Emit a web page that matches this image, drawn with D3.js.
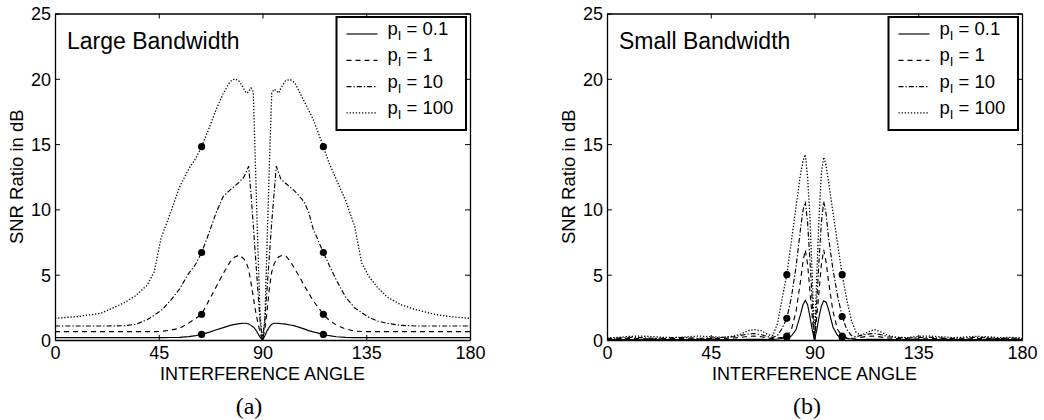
<!DOCTYPE html>
<html>
<head>
<meta charset="utf-8">
<script src="https://cdn.jsdelivr.net/npm/d3@7"></script>
<style>
  html, body { margin: 0; padding: 0; background: #fff; }
  svg { display: block; }
</style>
</head>
<body>
<svg id="chart" width="1044" height="420"></svg>
<script>
// ---------------- DATA ----------------
const xTicks = [0, 45, 90, 135, 180];
const yTicks = [0, 5, 10, 15, 20, 25];
const seriesLabels = ["0.1", "1", "10", "100"];
const xAxisTitle = "INTERFERENCE ANGLE";
const yAxisTitle = "SNR Ratio in dB";
const panelTitles = ["Large Bandwidth", "Small Bandwidth"];
const panelCaptions = ["(a)", "(b)"];

// Large bandwidth panel
const largeAngles = [0, 10, 20, 30, 35, 40, 43, 46, 50, 54, 58, 61, 63.6, 67, 70, 73, 76, 78, 80, 82,
  83, 84, 85, 86, 87, 88, 89, 90, 91, 92, 93, 94, 95, 96, 97, 98, 100, 102, 104, 106,
  108, 110, 112, 116.4, 119, 122, 126, 130, 133, 136, 140, 144, 150, 157, 165, 172, 180];
const largeP01 = [0.18, 0.18, 0.18, 0.18, 0.18, 0.18, 0.18, 0.18, 0.19, 0.2, 0.26, 0.34, 0.43, 0.6, 0.78, 0.95, 1.12, 1.2, 1.25, 1.28,
  1.28, 1.22, 1.12, 1.0, 0.8, 0.5, 0.2, 0, 0.3, 0.7, 1.0, 1.2, 1.28, 1.28, 1.27, 1.25, 1.22, 1.15, 1.08, 0.97,
  0.85, 0.72, 0.62, 0.43, 0.33, 0.25, 0.2, 0.18, 0.18, 0.18, 0.18, 0.18, 0.18, 0.18, 0.18, 0.18, 0.18];
const largeP1 = [0.64, 0.64, 0.64, 0.64, 0.64, 0.64, 0.64, 0.66, 0.75, 0.9, 1.3, 1.65, 1.97, 3.1, 4.1, 5.1, 6.0, 6.35, 6.5, 6.2,
  5.9, 5.4, 4.4, 3.3, 2.2, 1.3, 0.5, 0, 0.8, 2.2, 4.0, 5.2, 5.8, 6.15, 6.35, 6.45, 6.45, 6.05, 5.45, 4.85,
  4.2, 3.6, 3.0, 1.97, 1.5, 1.15, 0.85, 0.68, 0.65, 0.64, 0.64, 0.64, 0.64, 0.64, 0.64, 0.64, 0.64];
const largeP10 = [1.07, 1.07, 1.07, 1.09, 1.2, 1.55, 1.9, 2.25, 3.0, 3.9, 5.1, 5.8, 6.7, 8.3, 9.8, 11.0, 11.5, 11.8, 12.1, 12.5,
  12.9, 13.3, 11.2, 8.8, 6.3, 3.8, 1.3, 0, 1.5, 4.0, 6.5, 9.0, 11.2, 13.3, 12.8, 12.3, 12.0, 11.7, 11.4, 11.0,
  10.6, 9.8, 8.5, 6.7, 5.7, 4.6, 3.3, 2.45, 2.1, 1.75, 1.45, 1.28, 1.12, 1.07, 1.07, 1.07, 1.07];
const largeP100 = [1.66, 1.8, 2.05, 2.85, 3.4, 4.2, 5.2, 7.8, 9.7, 11.7, 13.1, 13.9, 14.8, 16.3, 17.7, 18.9, 19.8, 20.0, 19.8, 19.2,
  18.9, 19.0, 19.3, 19.0, 13.0, 7.0, 1.8, 0, 1.5, 7.5, 13.5, 18.9, 19.2, 19.1, 18.9, 19.3, 19.85, 19.95, 19.7, 19.0,
  18.3, 17.6, 16.9, 14.8, 13.5, 12.3, 10.7, 8.7, 5.9, 4.9, 4.0, 3.3, 2.7, 2.3, 1.95, 1.78, 1.66];
const largeMarkerAngles = [63.6, 116.4];

// Small bandwidth panel
const smallAngles = [0, 5, 10, 15, 20, 25, 30, 35, 40, 45, 50, 55, 58, 61, 64, 67, 70, 72, 74, 76,
  78, 80, 82, 84, 85, 86, 87, 88, 89, 90, 91, 92, 93, 94, 95, 96, 98, 100, 102, 104,
  106, 108, 110, 113, 116, 119, 122, 125, 130, 135, 140, 145, 150, 155, 160, 165, 170, 175, 180];
const smallP01 = [0.03, 0.03, 0.03, 0.03, 0.03, 0.03, 0.03, 0.03, 0.03, 0.03, 0.03, 0.03, 0.04, 0.05, 0.06, 0.05, 0.04, 0.05, 0.08, 0.12,
  0.2, 0.3, 0.8, 2.0, 2.7, 3.05, 2.7, 1.8, 0.8, 0, 0.8, 1.8, 2.6, 3.0, 2.9, 2.4, 1.0, 0.35, 0.2, 0.12,
  0.08, 0.05, 0.04, 0.05, 0.06, 0.05, 0.04, 0.03, 0.03, 0.03, 0.03, 0.03, 0.03, 0.03, 0.03, 0.03, 0.03, 0.03, 0.03];
const smallP1 = [0.08, 0.1, 0.12, 0.1, 0.08, 0.1, 0.12, 0.1, 0.08, 0.1, 0.12, 0.15, 0.2, 0.28, 0.3, 0.25, 0.15, 0.12, 0.15, 0.2,
  0.3, 0.8, 2.2, 4.6, 6.0, 6.9, 5.8, 3.8, 1.8, 0, 1.8, 3.8, 5.8, 6.9, 6.0, 4.6, 2.2, 0.8, 0.3, 0.18,
  0.13, 0.15, 0.2, 0.28, 0.3, 0.22, 0.15, 0.12, 0.1, 0.08, 0.1, 0.12, 0.1, 0.08, 0.1, 0.12, 0.1, 0.08, 0.08];
const smallP10 = [0.12, 0.15, 0.2, 0.18, 0.12, 0.15, 0.2, 0.18, 0.12, 0.15, 0.2, 0.25, 0.35, 0.45, 0.5, 0.4, 0.25, 0.2, 0.35, 0.9,
  1.66, 3.3, 5.6, 8.6, 9.9, 10.6, 9.0, 6.2, 3.0, 0, 3.0, 6.2, 9.0, 10.6, 9.7, 8.0, 5.4, 3.4, 1.8, 0.8,
  0.35, 0.25, 0.35, 0.45, 0.5, 0.4, 0.25, 0.2, 0.15, 0.18, 0.2, 0.15, 0.12, 0.15, 0.2, 0.18, 0.12, 0.15, 0.12];
const smallP100 = [0.15, 0.2, 0.28, 0.3, 0.25, 0.2, 0.18, 0.25, 0.3, 0.25, 0.2, 0.3, 0.45, 0.7, 0.8, 0.7, 0.4, 0.35, 1.3, 3.2,
  5.0, 7.6, 10.2, 12.8, 13.7, 14.2, 12.5, 9.5, 5.0, 0, 5.0, 9.5, 12.8, 14.0, 13.4, 12.2, 9.8, 7.4, 5.0, 3.1,
  1.5, 0.6, 0.35, 0.6, 0.8, 0.6, 0.35, 0.22, 0.18, 0.28, 0.3, 0.25, 0.18, 0.22, 0.28, 0.25, 0.18, 0.2, 0.15];
const smallMarkerAngles = [78, 102];

// ---------------- DRAWING ----------------
const dashStyles = [null, "5,4", "5,2,1.3,2", "1.3,1.8"];
const sansFont = "'Liberation Sans', Arial, Helvetica, sans-serif";

const panels = [
  { left: 55, right: 470, top: 13.5, bottom: 340, title: panelTitles[0], caption: panelCaptions[0], captionX: 249,
    angles: largeAngles, series: [largeP01, largeP1, largeP10, largeP100], markers: largeMarkerAngles },
  { left: 607, right: 1022, top: 13.5, bottom: 340, title: panelTitles[1], caption: panelCaptions[1], captionX: 807,
    angles: smallAngles, series: [smallP01, smallP1, smallP10, smallP100], markers: smallMarkerAngles }
];

const svg = d3.select("#chart");

panels.forEach(p => {
  const x = d3.scaleLinear().domain([0, 180]).range([p.left, p.right]);
  const y = d3.scaleLinear().domain([0, 25]).range([p.bottom, p.top]);
  const g = svg.append("g");

  const clipId = "clip" + p.left;
  svg.append("clipPath").attr("id", clipId).append("rect")
    .attr("x", p.left).attr("y", p.top).attr("width", p.right - p.left).attr("height", p.bottom - p.top);

  const line = d3.line().x(d => x(d[0])).y(d => y(d[1])).curve(d3.curveLinear);
  p.series.forEach((vals, i) => {
    const pts = p.angles.map((a, k) => [a, vals[k]]);
    g.append("path")
      .attr("d", line(pts))
      .attr("fill", "none")
      .attr("stroke", "#000")
      .attr("stroke-width", i === 3 ? 1.3 : 1.15)
      .attr("stroke-dasharray", dashStyles[i])
      .attr("clip-path", `url(#${clipId})`);
    p.markers.forEach(m => {
      const k = p.angles.indexOf(m);
      g.append("circle").attr("cx", x(m)).attr("cy", y(vals[k])).attr("r", 3.6).attr("fill", "#000");
    });
  });

  const axB = g.append("g").attr("transform", `translate(0,${p.bottom})`)
    .call(d3.axisBottom(x).tickValues(xTicks).tickSizeInner(-5).tickSizeOuter(0).tickPadding(6).tickFormat(d3.format("d")));
  const axT = g.append("g").attr("transform", `translate(0,${p.top})`)
    .call(d3.axisTop(x).tickValues(xTicks).tickSizeInner(-5).tickSizeOuter(0).tickFormat(""));
  const axL = g.append("g").attr("transform", `translate(${p.left},0)`)
    .call(d3.axisLeft(y).tickValues(yTicks).tickSizeInner(-5).tickSizeOuter(0).tickPadding(4).tickFormat(d3.format("d")));
  const axR = g.append("g").attr("transform", `translate(${p.right},0)`)
    .call(d3.axisRight(y).tickValues(yTicks).tickSizeInner(-5).tickSizeOuter(0).tickFormat(""));
  [axB, axT, axL, axR].forEach(a => {
    a.selectAll("path.domain").attr("stroke", "#000").attr("stroke-width", 1.3);
    a.selectAll("line").attr("stroke", "#000").attr("stroke-width", 1);
    a.selectAll("text").attr("font-family", sansFont).attr("font-size", 18).attr("fill", "#000");
  });
  axB.selectAll("text").attr("dy", "0.71em");
  axL.selectAll("text").attr("dy", "0.36em");

  g.append("text").attr("x", (p.left + p.right) / 2).attr("y", 380)
    .attr("text-anchor", "middle").attr("font-family", sansFont).attr("font-size", 18)
    .text(xAxisTitle);
  g.append("text").attr("transform", `translate(${p.left - 32},${(p.top + p.bottom) / 2}) rotate(-90)`)
    .attr("text-anchor", "middle").attr("font-family", sansFont).attr("font-size", 18.5)
    .text(yAxisTitle);

  g.append("text").attr("x", p.left + 12).attr("y", 49)
    .attr("font-family", sansFont).attr("font-size", 23).text(p.title);

  g.append("text").attr("x", p.captionX).attr("y", 414).attr("text-anchor", "middle")
    .attr("font-family", "'Liberation Serif', 'DejaVu Serif', serif").attr("font-size", 24).text(p.caption);

  const lgX = p.right - 133.5, lgY = 17, lgW = 129.5, lgH = 113;
  g.append("rect").attr("x", lgX).attr("y", lgY).attr("width", lgW).attr("height", lgH)
    .attr("fill", "#fff").attr("stroke", "#000").attr("stroke-width", 2);
  seriesLabels.forEach((lab, i) => {
    const by = 35 + i * 26.3;
    g.append("line").attr("x1", lgX + 10).attr("x2", lgX + 41).attr("y1", by - 1).attr("y2", by - 1)
      .attr("stroke", "#000").attr("stroke-width", i === 3 ? 1.3 : 1.15).attr("stroke-dasharray", dashStyles[i]);
    const t = g.append("text").attr("x", lgX + 51).attr("y", by)
      .attr("font-family", sansFont).attr("font-size", 18.5);
    t.append("tspan").text("p");
    t.append("tspan").attr("dy", 5).attr("font-size", 13).text("I");
    t.append("tspan").attr("dy", -5).text(" = " + lab);
  });
});
</script>
</body>
</html>
